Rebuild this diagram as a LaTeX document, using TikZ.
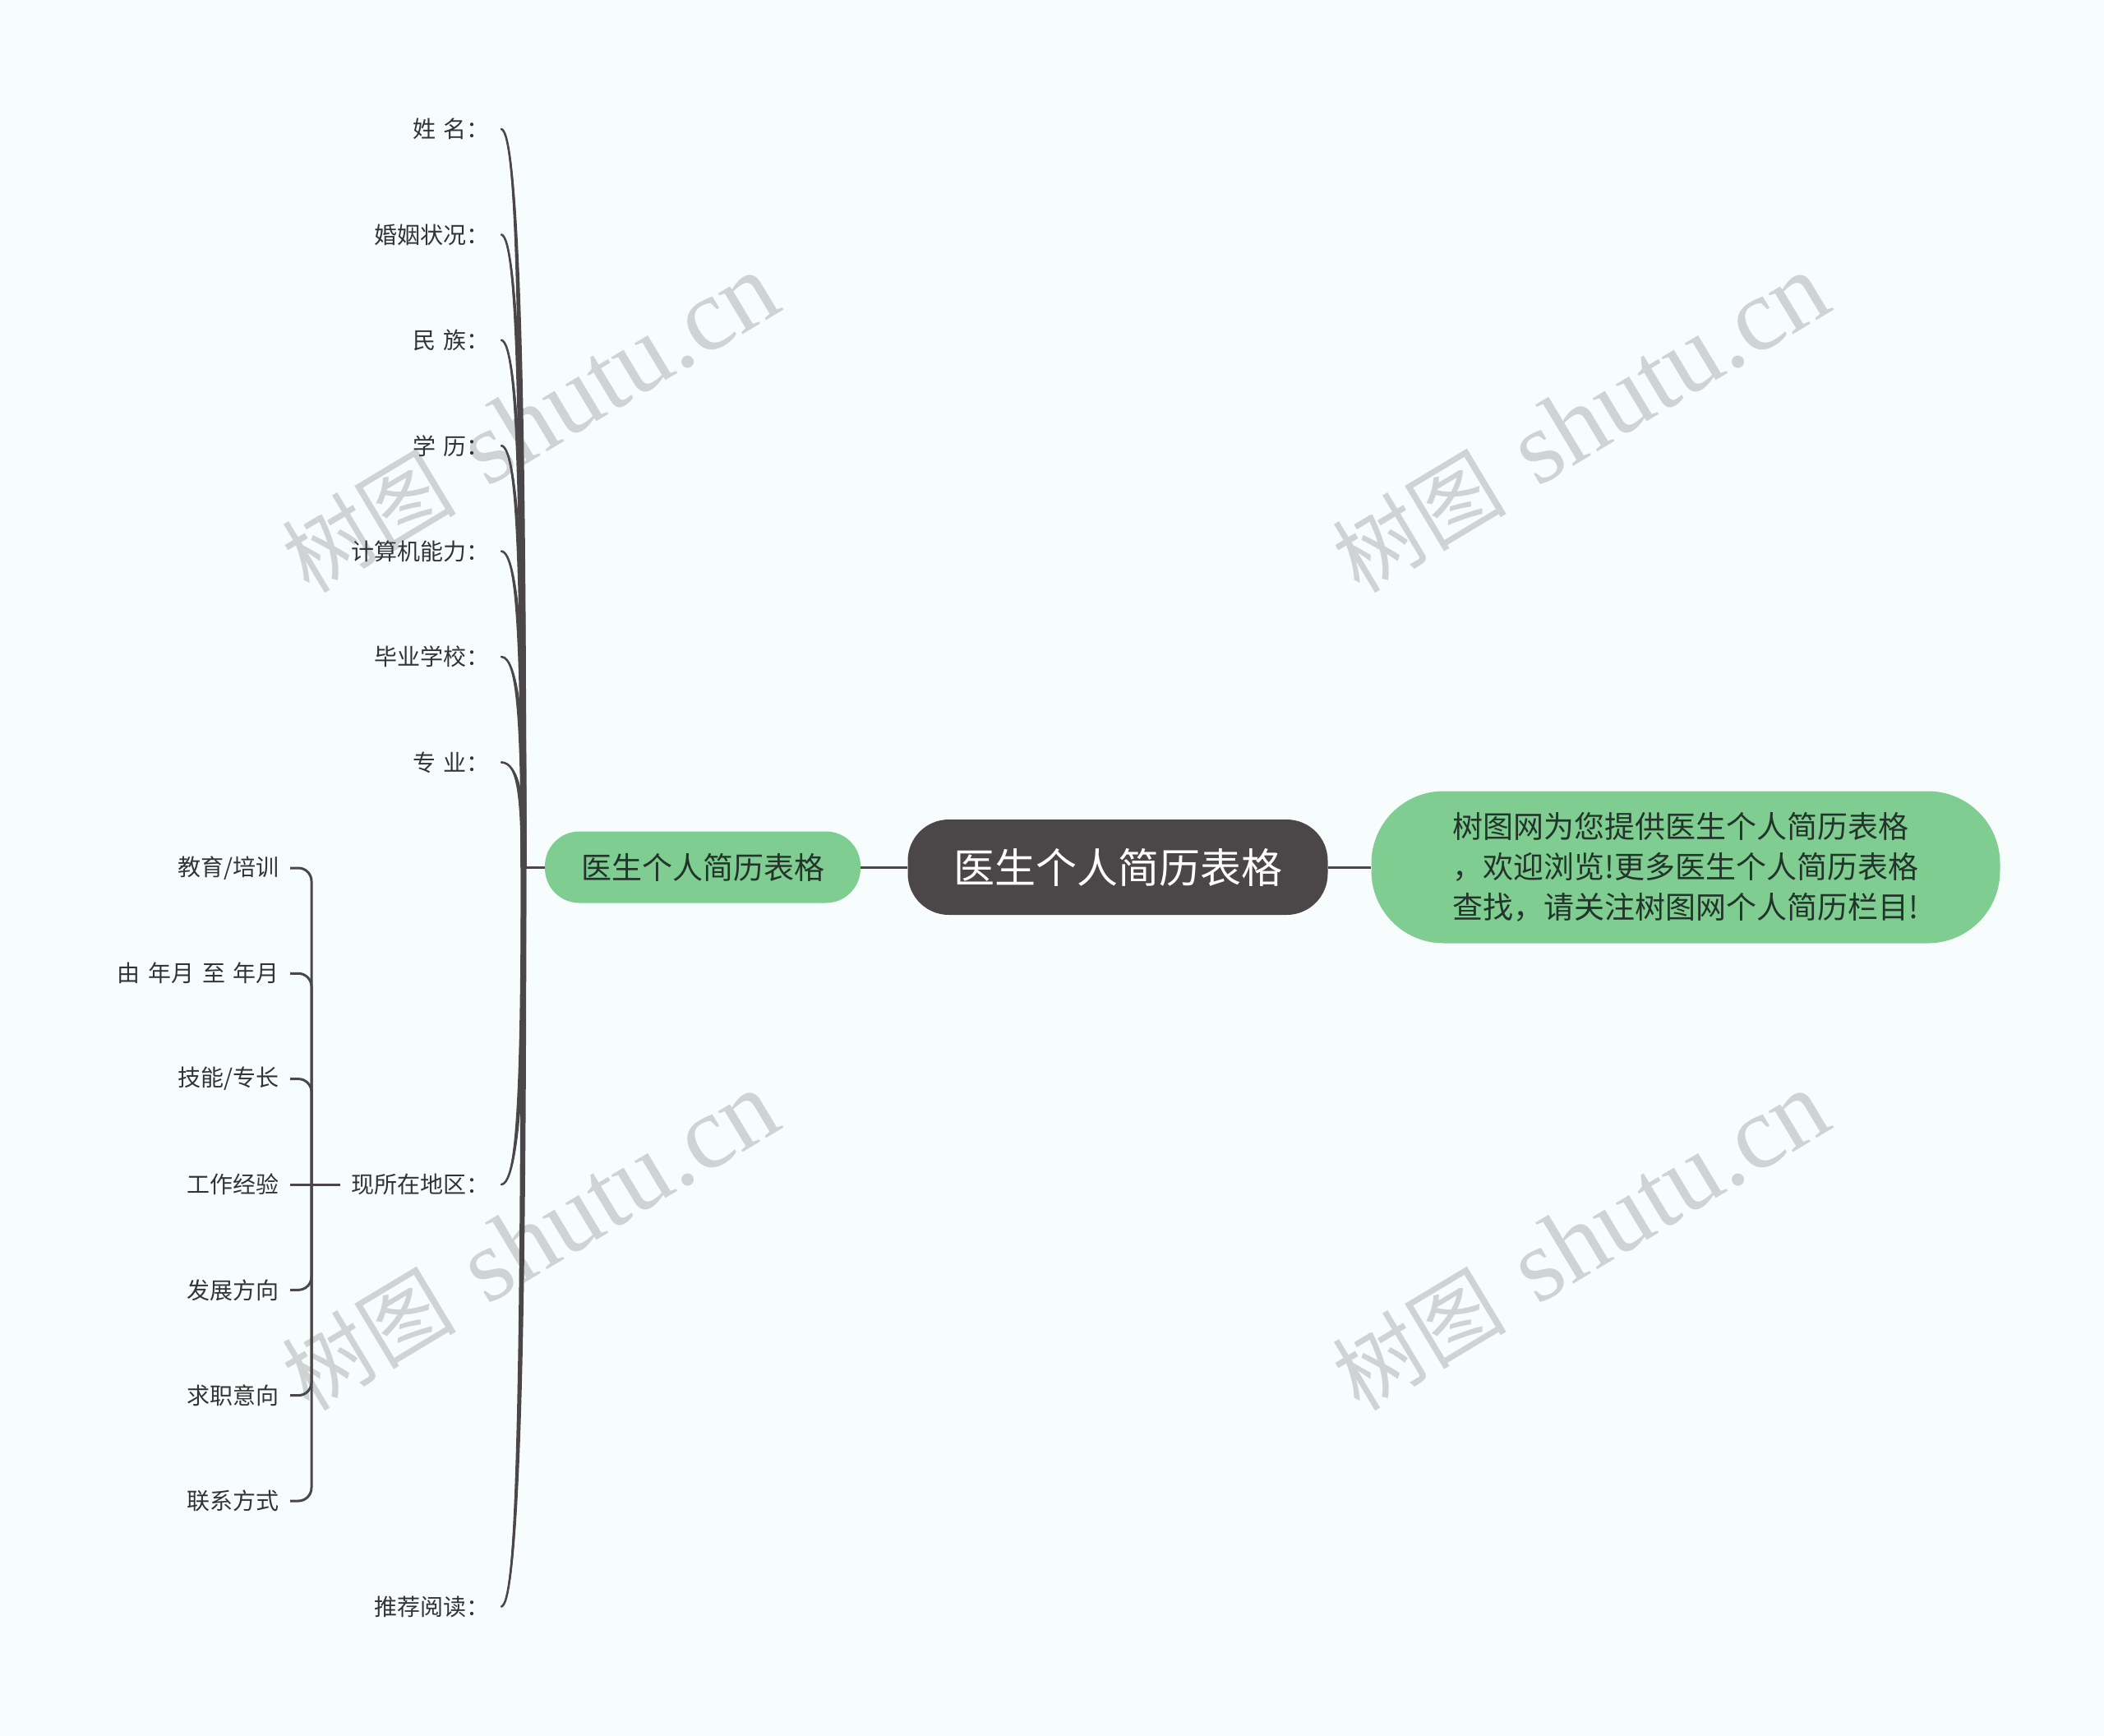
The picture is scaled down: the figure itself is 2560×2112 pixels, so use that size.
\documentclass[tikz,border=0pt]{standalone}
\usepackage{fontspec}
\setmainfont{Noto Sans CJK SC}
\newfontfamily\wmlatin{Liberation Serif}
\usetikzlibrary{calc}
\definecolor{bg}{HTML}{F7FDFD}
\definecolor{ink}{HTML}{4B4647}
\definecolor{leafgreen}{HTML}{80CD92}
\definecolor{txt}{HTML}{333333}
\definecolor{gtxt}{HTML}{23342A}
\definecolor{wm}{HTML}{CFD3D3}
\tikzset{
  conn/.style={draw=ink,line width=3pt},
  brace/.style={draw=ink,line width=3pt,rounded corners=16pt},
  leaflabel/.style={anchor=east,inner xsep=14pt,inner ysep=4pt,text=txt,font=\fontsize{28pt}{32pt}\selectfont},
  childlabel/.style={anchor=east,inner xsep=13pt,inner ysep=4pt,text=txt,font=\fontsize{28pt}{32pt}\selectfont},
  rootbox/.style={fill=ink,text=white,rounded corners=50pt,minimum width=511pt,minimum height=116pt,inner sep=0pt,font=\fontsize{50pt}{56pt}\selectfont},
  greenbox/.style={fill=leafgreen,text=gtxt,inner sep=0pt,font=\fontsize{37pt}{49pt}\selectfont},
  watermark/.style={text=wm,rotate=31,inner sep=0pt},
}
\begin{document}
\begin{tikzpicture}[x=1pt,y=-1pt]
\fill[bg] (0,0) rectangle (2560,2112);
\useasboundingbox (0,0) rectangle (2560,2112);

% watermarks
\foreach \wx/\wy [count=\k] in {645/515,1923/515,645/1510,1923/1510}{
  \node[watermark] (wm\k) at (\wx,\wy) {{\fontsize{106pt}{110pt}\selectfont 树图}\kern 40pt{\wmlatin\fontsize{126pt}{130pt}\selectfont shutu.cn}};
}

% main nodes
\node[rootbox] (c) at (1360,1055) {医生个人简历表格};
\node[greenbox,rounded corners=42pt,minimum width=384pt,minimum height=87pt] (g1) at (855,1055) {医生个人简历表格};
\node[greenbox,rounded corners=88pt,minimum width=765pt,minimum height=185pt,align=left] (g2) at (2051,1055) {树图网为您提供医生个人简历表格\\，欢迎浏览!更多医生个人简历表格\\查找，请关注树图网个人简历栏目!};

\draw[conn] (c.west) -- (g1.east);
\draw[conn] (c.east) -- (g2.west);

\coordinate (root) at (637,1055);
\draw[conn] (root) -- (g1.west);

% first-level leaves
\node[leaflabel] (l1) at (610,157) {姓\hspace{0.35em}名：};
\node[leaflabel] (l2) at (610,285.4) {婚姻状况：};
\node[leaflabel] (l3) at (610,413.8) {民\hspace{0.35em}族：};
\node[leaflabel] (l4) at (610,542.2) {学\hspace{0.35em}历：};
\node[leaflabel] (l5) at (610,670.6) {计算机能力：};
\node[leaflabel] (l6) at (610,799) {毕业学校：};
\node[leaflabel] (l7) at (610,927.4) {专\hspace{0.35em}业：};
\node[leaflabel] (l8) at (610,1441) {现所在地区：};
\node[leaflabel] (l9) at (610,1954.6) {推荐阅读：};

\foreach \i in {1,...,9}{
  \fill[ink] let \p1=(l\i.east), \p2=(root), \n1={\y2-\y1} in
    (\p1) .. controls (\x1+23pt,\y1+0.005*\n1) and (\x2+3.4pt,\y1+0.35*\n1) .. (\x2+3.4pt,\y2)
    -- (\x2-3.4pt,\y2) .. controls (\x2-3.4pt,\y1+0.35*\n1) and (\x1+19pt,\y1+0.005*\n1) .. (\p1) -- cycle;
  \draw[ink,line width=2.6pt,line cap=round] let \p1=(l\i.east), \p2=(root), \n1={\y2-\y1} in
    (\p1) .. controls (\x1+21pt,\y1+0.005*\n1) and (\x2,\y1+0.35*\n1) .. (\x2,\y2);
}

% second-level children of 现所在地区
\coordinate (bj) at (379,1441);
\node[childlabel] (k1) at (353,1056) {教育/培训};
\node[childlabel] (k2) at (353,1184.3) {由\hspace{0.35em}年月\hspace{0.35em}至\hspace{0.35em}年月};
\node[childlabel] (k3) at (353,1312.6) {技能/专长};
\node[childlabel] (k4) at (353,1441) {工作经验};
\node[childlabel] (k5) at (353,1569.3) {发展方向};
\node[childlabel] (k6) at (353,1697.6) {求职意向};
\node[childlabel] (k7) at (353,1826) {联系方式};

\foreach \j in {1,2,3,5,6,7}{
  \draw[brace] (k\j.east) -| (bj);
}
\draw[conn] (k4.east) -- (bj);
\draw[conn] (bj) -- (l8.west);

\end{tikzpicture}
\end{document}
